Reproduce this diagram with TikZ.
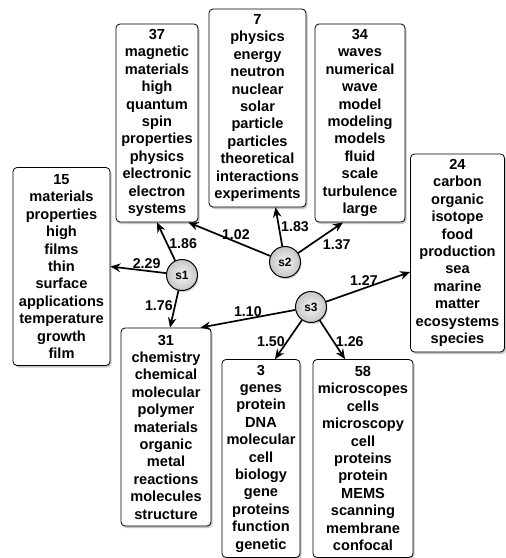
\documentclass[tikz,border=0pt]{standalone}
\usepackage{fontspec}
\setmainfont{Liberation Sans}
\usepackage{tikz}
\usetikzlibrary{arrows,arrows.meta,shadows}

\begin{document}
\begin{tikzpicture}[->,>={Stealth[length=10pt,width=8.5pt]},auto,
                    line width=1.7pt,
		    x=1pt,y=-1pt,
    topic/.style={draw,-,line width=0.8pt,rounded corners=4pt,fill=white,
      align=center,minimum height=198pt,inner sep=2pt,
      font=\fontsize{14.6}{17.4}\selectfont\bfseries,
      drop shadow={shadow xshift=1.5pt,shadow yshift=-2pt,opacity=0.45}},
    seed/.style={circle,draw,-,line width=1pt,minimum size=31pt,inner sep=0pt,
      inner color=gray!8,outer color=gray!45,
      font=\fontsize{12}{12}\selectfont\bfseries,
      drop shadow={shadow xshift=1pt,shadow yshift=-1.5pt,opacity=0.4}},
    wt/.style={font=\fontsize{14.2}{14}\selectfont\bfseries,inner sep=1.5pt}]

\useasboundingbox (0,0) rectangle (506,558);

\node[topic,minimum width=82pt] (b37) at(157,123) {37\\magnetic\\materials\\high\\quantum\\spin\\properties\\physics\\electronic\\electron\\systems};
\node[topic,minimum width=97pt] (b15) at(61.5,266.5) {15\\materials\\properties\\high\\films\\thin\\surface\\applications\\temperature\\growth\\film};
\node[topic,minimum width=97pt] (b7) at(257.5,108) {7\\physics\\energy\\neutron\\nuclear\\solar\\particle\\particles\\theoretical\\interactions\\experiments};
\node[topic,minimum width=90pt] (b34) at(360,123) {34\\waves\\numerical\\wave\\model\\modeling\\models\\fluid\\scale\\turbulence\\large};
\node[topic,minimum width=94pt] (b24) at(457.5,253) {24\\carbon\\organic\\isotope\\food\\production\\sea\\marine\\matter\\ecosystems\\species};
\node[topic,minimum width=90pt] (b31) at(166,427) {31\\chemistry\\chemical\\molecular\\polymer\\materials\\organic\\metal\\reactions\\molecules\\structure};
\node[topic,minimum width=78pt] (b3) at(261,458.5) {3\\genes\\protein\\DNA\\molecular\\cell\\biology\\gene\\proteins\\function\\genetic};
\node[topic,minimum width=100pt] (b58) at(363,458.5) {58\\microscopes\\cells\\microscopy\\cell\\proteins\\protein\\MEMS\\scanning\\membrane\\confocal};

\node[seed] (s1) at(182,275) {s1};
\node[seed] (s2) at(285,262) {s2};
\node[seed] (s3) at(311,307) {s3};

% s1
\path (s1) edge node[wt,pos=0.35,above]{2.29} (b15.east)
           edge node[wt,pos=0.45,right]{1.86} (b37.south)
           edge node[wt,pos=0.4,left]{1.76} ([xshift=4pt]b31.north);
% s2
\path (s2) edge node[wt,pos=0.42,above]{1.02} ([xshift=-10pt]b37.south east)
           edge node[wt,pos=0.5,right]{1.83} ([xshift=18pt]b7.south)
           edge node[wt,pos=0.5,below right]{1.37} ([xshift=-17pt]b34.south);
% s3
\path (s3) edge node[wt,pos=0.45,above]{1.27} ([yshift=-19pt]b24.west)
           edge node[wt,pos=0.5,above]{1.10} ([xshift=-11pt]b31.north east)
           edge node[wt,pos=0.55,left]{1.50} ([xshift=14pt]b3.north)
           edge node[wt,pos=0.55,right]{1.26} ([xshift=-18pt]b58.north);
\end{tikzpicture}
\end{document}
